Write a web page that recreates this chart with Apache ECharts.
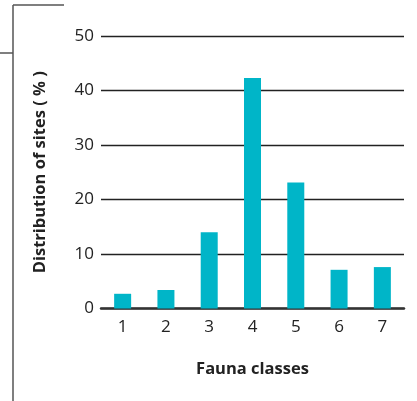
<!DOCTYPE html>
<html>
<head>
<meta charset="utf-8">
<script src="https://cdn.jsdelivr.net/npm/echarts@6/dist/echarts.min.js"></script>
<style>html,body{margin:0;padding:0;background:#fff;}#c{width:417px;height:401px;}</style>
</head>
<body>
<div id="c"></div>
<script>
const categories = ['1', '2', '3', '4', '5', '6', '7'];
const distribution = [2.7, 3.4, 14.0, 42.3, 23.1, 7.1, 7.6];
const yTicks = [0, 10, 20, 30, 40, 50];

const chart = echarts.init(document.getElementById('c'), null, {renderer: 'canvas'});
const font = 'Open Sans';
chart.setOption({
  animation: false,
  backgroundColor: '#fff',
  grid: {left: 101, right: 13, top: 36, bottom: 92.5},
  xAxis: {
    type: 'category',
    data: categories,
    name: 'Fauna classes',
    nameLocation: 'middle',
    nameGap: 52,
    nameTextStyle: {fontFamily: font, fontSize: 16.5, fontWeight: 'bold', color: '#222'},
    axisLine: {lineStyle: {color: '#333', width: 2.5}},
    axisTick: {alignWithLabel: true, length: 8, lineStyle: {color: '#333', width: 1.5}},
    axisLabel: {fontFamily: font, fontSize: 17, color: '#222', margin: 10},
    splitLine: {show: false}
  },
  yAxis: {
    type: 'value',
    min: yTicks[0],
    max: yTicks[yTicks.length - 1],
    interval: 10,
    name: 'Distribution of sites ( % )',
    nameLocation: 'middle',
    nameGap: 52,
    nameTextStyle: {fontFamily: font, fontSize: 16.5, fontWeight: 'bold', color: '#222'},
    axisLine: {show: false},
    axisTick: {show: false},
    axisLabel: {fontFamily: font, fontSize: 17, color: '#222', margin: 7},
    splitLine: {lineStyle: {color: '#222', width: 1.3}}
  },
  series: [{
    type: 'bar',
    data: distribution,
    barWidth: 17,
    itemStyle: {color: '#00b5c8'},
    z: 3
  }],
  graphic: [
    {type: 'line', shape: {x1: 13, y1: 5, x2: 13, y2: 401}, style: {stroke: '#555', lineWidth: 1.5}},
    {type: 'line', shape: {x1: 13, y1: 5, x2: 64, y2: 5}, style: {stroke: '#555', lineWidth: 1.5}},
    {type: 'line', shape: {x1: 0, y1: 53, x2: 13, y2: 53}, style: {stroke: '#555', lineWidth: 1.5}}
  ]
});
</script>
</body>
</html>
